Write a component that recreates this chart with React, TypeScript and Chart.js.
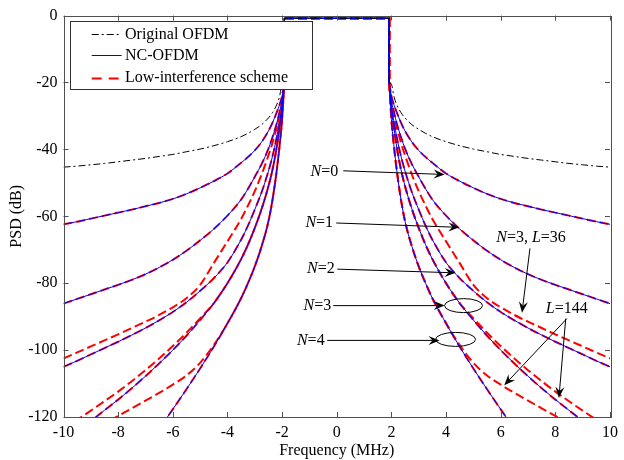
import { useEffect, useRef } from "react";
import { Chart, registerables } from "chart.js";

Chart.register(...registerables);

// ---------------- data ----------------
// Frequency (MHz) of the sampled points on the right side; the figure is mirrored on the left side.
const FREQ_RIGHT = [1.92, 2.0, 2.1, 2.2, 2.35, 2.5, 2.75, 3, 3.25, 3.5, 4, 4.5, 5, 5.5, 6, 6.5, 7, 7.5, 8, 8.5, 9, 9.5, 10];
const PASSBAND_EDGE = 1.92;
const PASSBAND_PSD = -0.8;

const ORIGINAL_OFDM = [-20, -20.5, -24.4, -26.7, -29.0, -30.6, -32.6, -34.0, -35.2, -36.2, -37.7, -38.9, -39.9, -40.7, -41.5, -42.1, -42.7, -43.2, -43.7, -44.2, -44.6, -45.0, -45.3];
const NC_N0 = [-20, -24, -26.8, -29, -32, -34.5, -37.8, -40.3, -42.3, -44, -47.2, -49.5, -51.5, -53.3, -54.8, -56.0, -57.0, -58.0, -58.9, -59.8, -60.7, -61.6, -62.4];
const NC_N1 = [-20, -25.5, -29, -32.3, -36.3, -39.8, -44.4, -48.2, -51.8, -55, -59.8, -63.8, -67.2, -70.3, -73, -75.3, -77.3, -79, -80.5, -81.9, -83.3, -84.7, -86.1];
const NC_N2 = [-20, -27, -32, -36.5, -42, -46.5, -52.8, -58, -62.8, -67, -73.8, -78.5, -82.3, -85.7, -88.6, -91.1, -93.4, -95.5, -97.5, -99.4, -101.3, -103.2, -105];
const NC_N3 = [-20, -28, -34, -39.5, -46, -51, -57.8, -63.5, -68.5, -72.8, -80, -86, -91, -95.7, -100, -104, -107.8, -111.4, -114.8, -118, -121.2, -124.2, -127];
const NC_N4 = [-20, -31, -39.5, -46.5, -55, -61.5, -69, -75, -80, -84.5, -92, -99, -105.5, -111.7, -117.7, -123.5, -129, -134, -139, -144, -149, -154, -159];
const LI_N3_L36 = [-20, -26, -30, -33.5, -38, -41.8, -47.5, -52.5, -56.8, -60.8, -67.5, -74, -80.5, -84.5, -87.2, -89.5, -91.5, -93.4, -95.3, -97.1, -98.9, -100.7, -102.5];
const LI_N3_L144 = [-20, -28, -34, -39.5, -46, -51, -57.8, -63.5, -68.5, -72.8, -80, -86, -90.5, -94.8, -98.8, -102.5, -106, -109.3, -112.4, -115.3, -118.1, -120.8, -123.4];
const LI_N4_L144 = [-20, -31, -39.5, -46.5, -55, -61.5, -69, -75, -80, -84.5, -92, -98.5, -103.8, -107.6, -110.3, -112.8, -115.1, -117.4, -119.7, -121.9, -124, -126, -128];

const X_TICKS = [-10, -8, -6, -4, -2, 0, 2, 4, 6, 8, 10];
const Y_TICKS = [-120, -100, -80, -60, -40, -20, 0];

const LEGEND_LABELS = ["Original OFDM", "NC-OFDM", "Low-interference scheme"];

// annotation texts: [text, italic] pieces
type Part = [string, boolean];
const LABEL_N0: Part[] = [["N", true], ["=0", false]];
const LABEL_N1: Part[] = [["N", true], ["=1", false]];
const LABEL_N2: Part[] = [["N", true], ["=2", false]];
const LABEL_N3: Part[] = [["N", true], ["=3", false]];
const LABEL_N4: Part[] = [["N", true], ["=4", false]];
const LABEL_N3_L36: Part[] = [["N", true], ["=3, ", false], ["L", true], ["=36", false]];
const LABEL_L144: Part[] = [["L", true], ["=144", false]];

// ---------------- styles ----------------
const SERIF = "'Liberation Serif', 'Times New Roman', Times, serif";
const FONT_SIZE = 16;
const BLUE = "#0000ff";
const RED = "#ff0000";
const BLACK = "#000000";
const FRAME = "#505050";
const DASH_RED = [9, 4];
const DASH_DOT = [7, 3, 2, 3];

type Pt = { x: number; y: number };

function leftSide(vals: number[]): Pt[] {
  const pts: Pt[] = [];
  for (let i = FREQ_RIGHT.length - 1; i >= 0; i--) pts.push({ x: -FREQ_RIGHT[i], y: vals[i] });
  return pts;
}
function rightSide(vals: number[]): Pt[] {
  return FREQ_RIGHT.map((f, i) => ({ x: f, y: vals[i] }));
}
function passband(vals: number[]): Pt[] {
  return [
    { x: -PASSBAND_EDGE, y: vals[0] },
    { x: -PASSBAND_EDGE, y: PASSBAND_PSD },
    { x: PASSBAND_EDGE, y: PASSBAND_PSD },
    { x: PASSBAND_EDGE, y: vals[0] },
  ];
}

function curveDatasets(vals: number[], color: string, width: number, dash: number[]) {
  const base = {
    borderColor: color,
    backgroundColor: color,
    borderWidth: width,
    borderDash: dash,
    pointRadius: 0,
    showLine: true,
    fill: false,
  };
  return [
    { ...base, data: leftSide(vals), cubicInterpolationMode: "monotone" as const },
    { ...base, data: rightSide(vals), cubicInterpolationMode: "monotone" as const },
    { ...base, data: passband(vals), tension: 0 },
  ];
}

function drawRich(ctx: CanvasRenderingContext2D, parts: Part[], cx: number, cy: number) {
  ctx.textBaseline = "middle";
  ctx.textAlign = "left";
  let total = 0;
  const widths = parts.map(([t, it]) => {
    ctx.font = `${it ? "italic " : ""}${FONT_SIZE}px ${SERIF}`;
    const w = ctx.measureText(t).width;
    total += w;
    return w;
  });
  let x = cx - total / 2;
  parts.forEach(([t, it], i) => {
    ctx.font = `${it ? "italic " : ""}${FONT_SIZE}px ${SERIF}`;
    ctx.fillText(t, x, cy);
    x += widths[i];
  });
}

function drawArrow(ctx: CanvasRenderingContext2D, x1: number, y1: number, x2: number, y2: number) {
  const a = Math.atan2(y2 - y1, x2 - x1);
  const L = 11, W = 4.5, back = 7;
  const c = Math.cos(a), s = Math.sin(a);
  ctx.beginPath();
  ctx.moveTo(x1, y1);
  ctx.lineTo(x2 - back * c, y2 - back * s);
  ctx.stroke();
  ctx.beginPath();
  ctx.moveTo(x2, y2);
  ctx.lineTo(x2 - L * c + W * s, y2 - L * s - W * c);
  ctx.lineTo(x2 - back * c, y2 - back * s);
  ctx.lineTo(x2 - L * c - W * s, y2 - L * s + W * c);
  ctx.closePath();
  ctx.fill();
}

const overlayPlugin = {
  id: "overlay",
  afterDraw(chart: any) {
    const ctx: CanvasRenderingContext2D = chart.ctx;
    const { left, right, top, bottom } = chart.chartArea;
    const xs = chart.scales.x;
    const ys = chart.scales.y;
    const px = (v: number) => xs.getPixelForValue(v);
    const py = (v: number) => ys.getPixelForValue(v);

    ctx.save();
    // frame and inward ticks
    ctx.strokeStyle = FRAME;
    ctx.lineWidth = 1;
    ctx.setLineDash([]);
    ctx.strokeRect(Math.round(left) + 0.5, Math.round(top) + 0.5, Math.round(right - left), Math.round(bottom - top));
    const tk = 5;
    ctx.beginPath();
    X_TICKS.forEach((v) => {
      const x = Math.round(px(v)) + 0.5;
      ctx.moveTo(x, bottom);
      ctx.lineTo(x, bottom - tk);
      ctx.moveTo(x, top);
      ctx.lineTo(x, top + tk);
    });
    Y_TICKS.forEach((v) => {
      const y = Math.round(py(v)) + 0.5;
      ctx.moveTo(left, y);
      ctx.lineTo(left + tk, y);
      ctx.moveTo(right, y);
      ctx.lineTo(right - tk, y);
    });
    ctx.stroke();

    // annotations
    ctx.fillStyle = BLACK;
    ctx.strokeStyle = BLACK;
    ctx.lineWidth = 1;
    const labelArrows: [Part[], number, number, number, number, number, number][] = [
      [LABEL_N0, -0.45, -46.6, 0.24, -46.4, 3.95, -47.5],
      [LABEL_N1, -0.64, -62.0, -0.02, -62.0, 4.49, -63.3],
      [LABEL_N2, -0.58, -75.7, 0.02, -75.8, 4.35, -76.9],
      [LABEL_N3, -0.71, -86.7, -0.13, -86.7, 3.95, -86.7],
      [LABEL_N4, -0.95, -97.1, -0.35, -97.1, 3.76, -97.1],
    ];
    labelArrows.forEach(([parts, tx, ty, ax, ay, bx, by]) => {
      drawRich(ctx, parts, px(tx), py(ty));
      drawArrow(ctx, px(ax), py(ay), px(bx), py(by));
    });
    drawRich(ctx, LABEL_N3_L36, px(7.11), py(-66.5));
    drawArrow(ctx, px(7.07), py(-69.6), px(6.78), py(-88.8));
    drawRich(ctx, LABEL_L144, px(8.42), py(-87.6));
    drawArrow(ctx, px(8.42), py(-90.6), px(6.13), py(-110.5));
    drawArrow(ctx, px(8.38), py(-90.6), px(8.13), py(-114.3));

    ctx.beginPath();
    ctx.ellipse(px(4.64), py(-86.7), 19, 7, 0, 0, Math.PI * 2);
    ctx.stroke();
    ctx.beginPath();
    ctx.ellipse(px(4.35), py(-96.8), 20, 7, 0, 0, Math.PI * 2);
    ctx.stroke();

    // legend
    const lx = left + 6.5, ly = top + 5.3, lw = 241.7, lh = 68.4;
    ctx.fillStyle = "#ffffff";
    ctx.fillRect(lx, ly, lw, lh);
    ctx.strokeStyle = "#303030";
    ctx.strokeRect(Math.round(lx) + 0.5, Math.round(ly) + 0.5, Math.round(lw), Math.round(lh));
    const rows = [top + 18.7, top + 39.7, top + 62];
    const styles: [string, number, number[]][] = [
      [BLACK, 1, DASH_DOT],
      [BLUE, 1, []],
      [RED, 2, [10, 7]],
    ];
    LEGEND_LABELS.forEach((label, i) => {
      const y = Math.round(rows[i]) + 0.5;
      ctx.strokeStyle = styles[i][0];
      ctx.lineWidth = styles[i][1];
      ctx.setLineDash(styles[i][2]);
      ctx.beginPath();
      ctx.moveTo(left + 28.2, y);
      ctx.lineTo(left + 58.2, y);
      ctx.stroke();
      ctx.setLineDash([]);
      ctx.fillStyle = BLACK;
      ctx.font = `${FONT_SIZE}px ${SERIF}`;
      ctx.textAlign = "left";
      ctx.textBaseline = "middle";
      ctx.fillText(label, left + 61.5, rows[i]);
    });
    ctx.restore();
  },
};

export default function App() {
  const ref = useRef<HTMLCanvasElement | null>(null);
  useEffect(() => {
    if (!ref.current) return;
    const datasets = [
      ...curveDatasets(ORIGINAL_OFDM, BLACK, 1, DASH_DOT),
      ...curveDatasets(NC_N0, BLUE, 1, []),
      ...curveDatasets(NC_N1, BLUE, 1, []),
      ...curveDatasets(NC_N2, BLUE, 1, []),
      ...curveDatasets(NC_N3, BLUE, 1, []),
      ...curveDatasets(NC_N4, BLUE, 1, []),
      ...curveDatasets(NC_N0, RED, 2, DASH_RED),
      ...curveDatasets(NC_N1, RED, 2, DASH_RED),
      ...curveDatasets(NC_N2, RED, 2, DASH_RED),
      ...curveDatasets(NC_N3, RED, 2, DASH_RED),
      ...curveDatasets(NC_N4, RED, 2, DASH_RED),
      ...curveDatasets(LI_N3_L36, RED, 2, DASH_RED),
      ...curveDatasets(LI_N3_L144, RED, 2, DASH_RED),
      ...curveDatasets(LI_N4_L144, RED, 2, DASH_RED),
    ];
    const font = { family: SERIF, size: FONT_SIZE };
    const chart = new Chart(ref.current, {
      type: "scatter",
      data: { datasets: datasets as any },
      options: {
        animation: false,
        responsive: false,
        events: [],
        layout: { padding: { left: 0, right: 10, top: 13, bottom: 0 } },
        scales: {
          x: {
            type: "linear",
            min: -10,
            max: 10,
            ticks: { stepSize: 2, font, color: BLACK, padding: 6, maxRotation: 0 },
            grid: { display: false, drawTicks: false },
            border: { display: false },
            title: { display: true, text: "Frequency (MHz)", font, color: BLACK, padding: { top: 0, bottom: 0 } },
            afterFit: (s: any) => {
              s.height = 43;
            },
          },
          y: {
            type: "linear",
            min: -120,
            max: 0,
            ticks: { stepSize: 20, font, color: BLACK, padding: 6 },
            grid: { display: false, drawTicks: false },
            border: { display: false },
            title: { display: true, text: "PSD (dB)", font, color: BLACK, padding: { top: 7.4, bottom: 0 } },
            afterFit: (s: any) => {
              s.width = 63.5;
            },
          },
        },
        plugins: { legend: { display: false }, tooltip: { enabled: false } },
      },
      plugins: [overlayPlugin],
    });
    return () => chart.destroy();
  }, []);
  return (
    <div style={{ position: "fixed", left: 0, top: 0, width: 624, height: 460, background: "#fff" }}>
      <canvas ref={ref} width={624} height={460} style={{ display: "block", width: 624, height: 460 }} />
    </div>
  );
}
